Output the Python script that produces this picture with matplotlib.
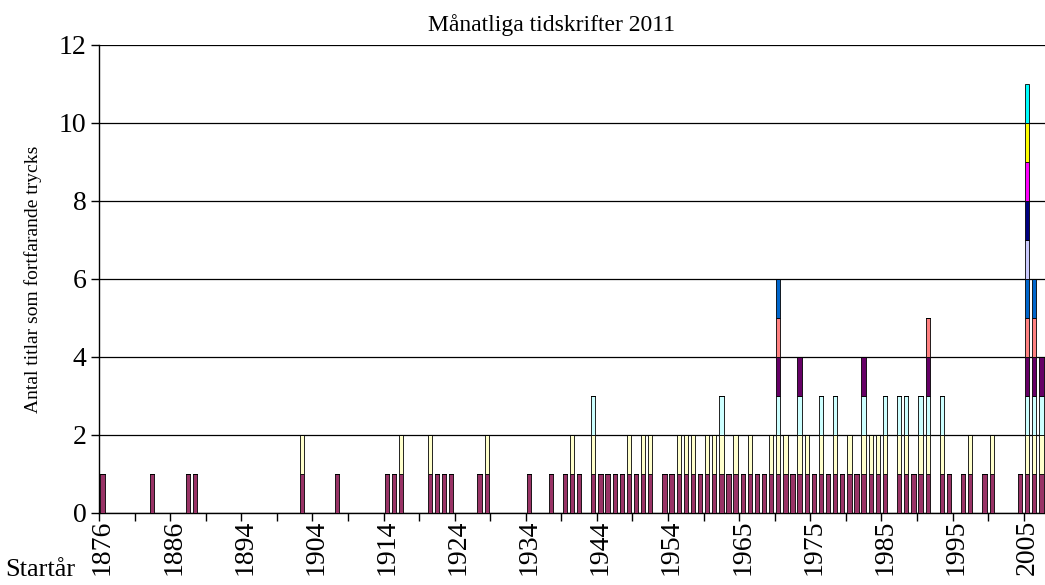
import numpy as np
import matplotlib
matplotlib.use("Agg")
import matplotlib.pyplot as plt

# antal titlar per startår (kategori), läst från bilden
antal = [
    1, 0, 0, 0, 0, 0, 0, 1, 0, 0,
    0, 0, 1, 1, 0, 0, 0, 0, 0, 0,
    0, 0, 0, 0, 0, 0, 0, 0, 2, 0,
    0, 0, 0, 1, 0, 0, 0, 0, 0, 0,
    1, 1, 2, 0, 0, 0, 2, 1, 1, 1,
    0, 0, 0, 1, 2, 0, 0, 0, 0, 0,
    1, 0, 0, 1, 0, 1, 2, 1, 0, 3,
    1, 1, 1, 1, 2, 1, 2, 2, 0, 1,
    1, 2, 2, 2, 1, 2, 2, 3, 1, 2,
    1, 2, 1, 1, 2, 6, 2, 1, 4, 2,
    1, 3, 1, 3, 1, 2, 1, 4, 2, 2,
    3, 0, 3, 3, 1, 3, 5, 0, 3, 1,
    0, 1, 2, 0, 1, 2, 0, 0, 0, 1,
    11, 6, 4,
]
tick_labels = ["1876", "1886", "1894", "1904", "1914", "1924", "1934",
               "1944", "1954", "1965", "1975", "1985", "1995", "2005"]
serie_farger = ["#993366", "#FFFFCC", "#CCFFFF", "#660066", "#FF8080", "#0066CC",
                "#CCCCFF", "#000080", "#FF00FF", "#FFFF00", "#00FFFF"]

plt.rcParams['font.family'] = ['Liberation Serif', 'DejaVu Serif']

antal = np.array(antal)
n = len(antal)
x = np.arange(n)

fig = plt.figure(figsize=(10.45, 5.85), dpi=100)
ax = fig.add_axes([99 / 1045, 72 / 585, 946 / 1045, 468 / 585])

bottom = np.zeros(n)
for k, farg in enumerate(serie_farger):
    serie = (antal > k).astype(float)
    ax.bar(x, serie, bottom=bottom, width=0.6, color=farg,
           edgecolor='black', linewidth=0.6, zorder=3)
    bottom += serie

ax.set_xlim(-0.5, n - 0.5)
ax.set_ylim(0, 12)
ax.set_yticks(np.arange(0, 13, 2))
ax.yaxis.grid(True, color='black', linewidth=0.9, zorder=0)
ax.set_axisbelow(True)
for s in ['top', 'right']:
    ax.spines[s].set_visible(False)
ax.spines['left'].set_linewidth(1.0)
ax.spines['bottom'].set_linewidth(1.0)

ax.set_xticks(np.arange(-0.5, n, 5))
ax.set_xticklabels([])
ax.set_xticks(np.arange(0, n, 10), minor=True)
ax.set_xticklabels(tick_labels, minor=True, rotation=90, fontsize=20)
ax.tick_params(axis='x', which='major', length=6, width=1, direction='out')
ax.tick_params(axis='x', which='minor', length=0, pad=5)
ax.tick_params(axis='y', length=6, width=1, labelsize=20, pad=3)

ax.set_ylabel('Antal titlar som fortfarande trycks', fontsize=14, labelpad=12)
fig.text(552 / 1045, 1 - 25 / 585, 'Månatliga tidskrifter 2011', ha='center',
         va='center', fontsize=17)
fig.text(5 / 1045, 1 - 570 / 585, 'Startår', ha='left', va='center', fontsize=19)

fig.savefig('out.png', dpi=100)
